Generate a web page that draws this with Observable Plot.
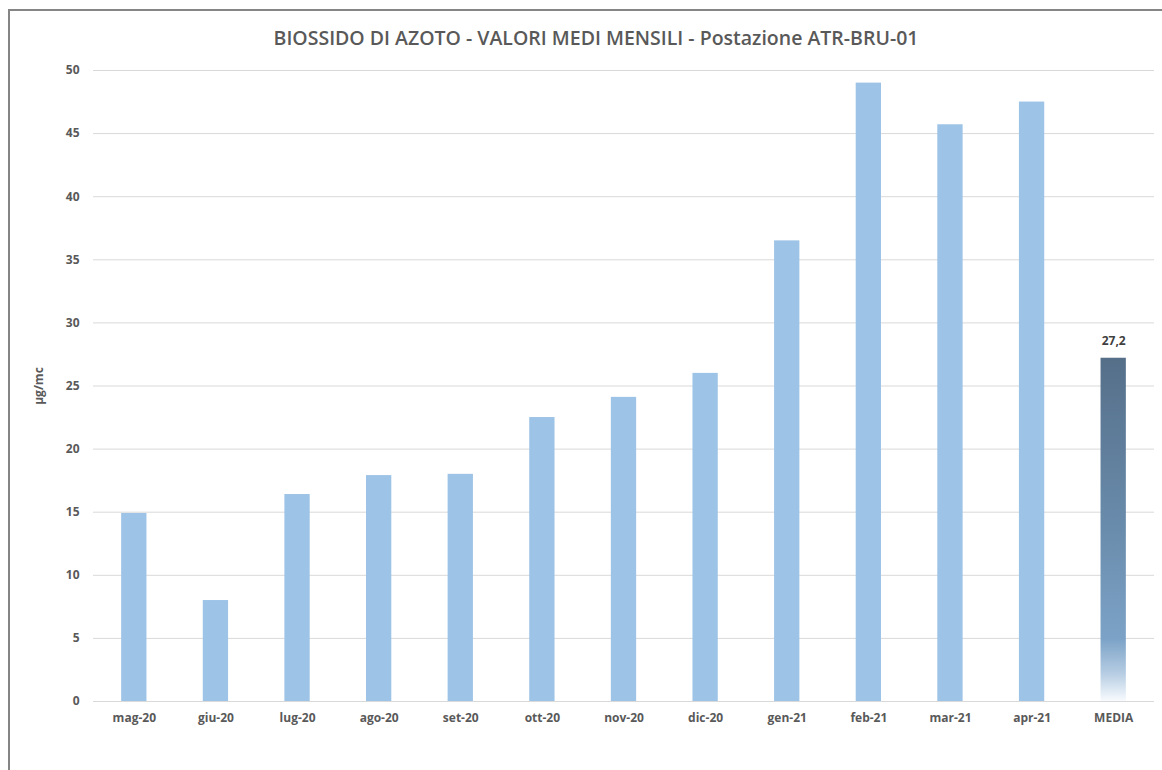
<!DOCTYPE html>
<html>
<head>
<meta charset="utf-8">
<script src="https://cdn.jsdelivr.net/npm/d3@7"></script>
<script src="https://cdn.jsdelivr.net/npm/@observablehq/plot@0.6"></script>
<style>
  html, body { margin: 0; padding: 0; background: #fff; }
  #page { position: relative; width: 1162px; height: 770px; overflow: hidden; }
  #frame { position: absolute; left: 8px; top: 9px; width: 1200px; height: 800px;
           border-left: 2px solid #858585; border-top: 2px solid #858585; }
  #title { position: absolute; left: 0; top: 24px; width: 1192px; text-align: center;
           font-family: "Open Sans", sans-serif; font-weight: 600; font-size: 19.5px; color: #595959;
           white-space: nowrap; }
  #chart { position: absolute; left: 0; top: 0; }
</style>
</head>
<body>
<div id="page">
  <div id="frame"></div>
  <div id="chart"></div>
  <div id="title">BIOSSIDO DI AZOTO - VALORI MEDI MENSILI - Postazione ATR-BRU-01</div>
</div>
<script>
// Monthly NO2 averages (µg/mc), May 2020 – April 2021
const months = ["mag-20", "giu-20", "lug-20", "ago-20", "set-20", "ott-20",
                "nov-20", "dic-20", "gen-21", "feb-21", "mar-21", "apr-21"];
const monthlyValues = [14.9, 8.0, 16.4, 17.9, 18.0, 22.5, 24.1, 26.0, 36.5, 49.0, 45.7, 47.5];
const meanCategory = "MEDIA";
const meanValue = 27.2;
const meanLabel = "27,2";
const yTicks = [0, 5, 10, 15, 20, 25, 30, 35, 40, 45, 50];

const categories = [...months, meanCategory];
const monthRows = months.map((m, i) => ({cat: m, value: monthlyValues[i]}));
const meanRows = [{cat: meanCategory, value: meanValue, label: meanLabel}];

const textColor = "#595959";
const font = "'Open Sans', sans-serif";

// vertical fade used by the average bar
const gradientDefs = () => {
  const svgns = "http://www.w3.org/2000/svg";
  const defs = document.createElementNS(svgns, "defs");
  const grad = document.createElementNS(svgns, "linearGradient");
  grad.setAttribute("id", "mediaFade");
  grad.setAttribute("x1", "0"); grad.setAttribute("y1", "0");
  grad.setAttribute("x2", "0"); grad.setAttribute("y2", "1");
  [["0", "#556f89"], ["0.5", "#6a8cac"], ["0.82", "#7ca3c7"], ["0.92", "#b6cde3"], ["1", "#f8fbfe"]]
    .forEach(([o, c]) => {
      const s = document.createElementNS(svgns, "stop");
      s.setAttribute("offset", o); s.setAttribute("stop-color", c);
      grad.appendChild(s);
    });
  defs.appendChild(grad);
  return defs;
};

const chart = Plot.plot({
  width: 1162,
  height: 770,
  marginTop: 70,
  marginBottom: 69,
  marginLeft: 93,
  marginRight: 8,
  style: {fontFamily: font, fontSize: "12px", color: textColor, background: "transparent"},
  x: {domain: categories, paddingInner: 0.69, paddingOuter: 0.345, round: false},
  y: {domain: [0, 50]},
  marks: [
    gradientDefs,
    Plot.ruleY(yTicks, {stroke: "#d9d9d9", strokeWidth: 1}),
    Plot.barY(monthRows, {x: "cat", y: "value", fill: "#9dc3e6"}),
    Plot.barY(meanRows, {x: "cat", y: "value", fill: "url(#mediaFade)"}),
    Plot.text(meanRows, {x: "cat", y: "value", text: "label", dy: -17,
      fill: "#404040", fontWeight: "bold", fontSize: 12}),
    Plot.axisY({ticks: yTicks, tickSize: 0, tickPadding: 14, fontWeight: "bold",
      label: "µg/mc", labelAnchor: "center", labelOffset: 59, labelArrow: "none"}),
    Plot.axisX({tickSize: 0, tickPadding: 12, fontWeight: "bold", label: null})
  ]
});
document.getElementById("chart").appendChild(chart);
</script>
</body>
</html>
